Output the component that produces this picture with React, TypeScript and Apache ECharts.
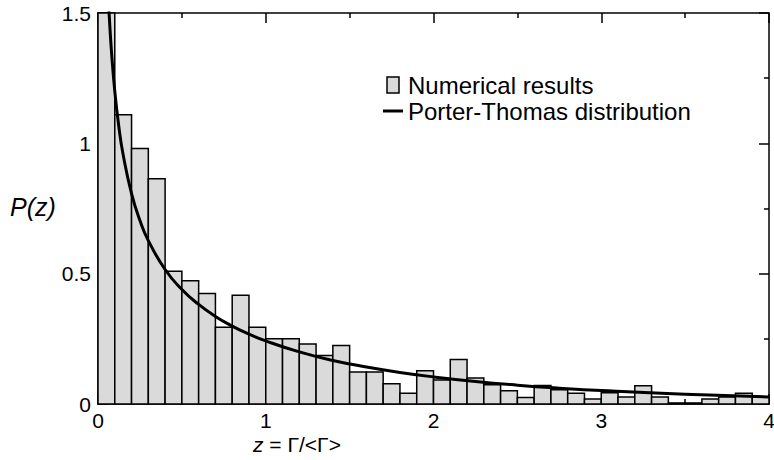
import React, { useEffect, useRef } from "react";
import * as echarts from "echarts";

// Histogram bins: width 0.1 from 0 to 4
const binStarts = [
  0.0, 0.1, 0.2, 0.3, 0.4, 0.5, 0.6, 0.7, 0.8, 0.9,
  1.0, 1.1, 1.2, 1.3, 1.4, 1.5, 1.6, 1.7, 1.8, 1.9,
  2.0, 2.1, 2.2, 2.3, 2.4, 2.5, 2.6, 2.7, 2.8, 2.9,
  3.0, 3.1, 3.2, 3.3, 3.4, 3.5, 3.6, 3.7, 3.8, 3.9,
];
const binWidth = 0.1;
const numericalResults = [
  1.5, 1.11, 0.98, 0.864, 0.509, 0.473, 0.424, 0.294, 0.417, 0.294,
  0.25, 0.25, 0.23, 0.186, 0.224, 0.123, 0.123, 0.078, 0.041, 0.128,
  0.092, 0.171, 0.1, 0.074, 0.051, 0.025, 0.071, 0.055, 0.041, 0.019,
  0.043, 0.027, 0.07, 0.027, 0.004, 0.004, 0.019, 0.027, 0.041, 0.027,
];

// Porter-Thomas curve points
const curveZ = [
  0.06, 0.067, 0.08, 0.1, 0.125, 0.15, 0.2, 0.25, 0.3, 0.4, 0.5, 0.6, 0.7,
  0.8, 0.9, 1.0, 1.2, 1.4, 1.6, 1.8, 2.0, 2.25, 2.5, 2.75, 3.0, 3.5, 4.0,
];
const curveP = [
  1.58, 1.49, 1.355, 1.2, 1.06, 0.956, 0.807, 0.704, 0.627, 0.516, 0.439,
  0.382, 0.336, 0.299, 0.268, 0.242, 0.2, 0.167, 0.142, 0.121, 0.104,
  0.0864, 0.0723, 0.0608, 0.0514, 0.0371, 0.027,
];

const xTicks = [0, 1, 2, 3, 4];
const yTicks = [0, 0.5, 1, 1.5];

const FONT = "'Liberation Sans', Arial, Helvetica, sans-serif";

export default function App() {
  const ref = useRef<HTMLDivElement>(null);

  useEffect(() => {
    document.body.style.margin = "0";
    if (!ref.current) return;
    const chart = echarts.init(ref.current, null, { renderer: "svg" });

    const histData = binStarts.map((s, i) => [s, s + binWidth, numericalResults[i]]);
    const curveData = curveZ.map((z, i) => [z, curveP[i]]);

    const yFmt = (v: number) => {
      const s = yTicks.find((t) => Math.abs(t - v) < 1e-9);
      return s === undefined ? "" : String(s);
    };

    const axisCommon = {
      axisLine: { show: true, onZero: false, lineStyle: { color: "#000", width: 1.5 } },
      axisTick: { show: true, inside: true, length: 10, lineStyle: { color: "#000", width: 1.5 } },
      minorTick: { show: true, splitNumber: 2, length: 5, lineStyle: { color: "#000", width: 1.5 } },
      splitLine: { show: false },
      minorSplitLine: { show: false },
    };

    const option: any = {
      animation: false,
      backgroundColor: "#fff",
      textStyle: { fontFamily: FONT },
      grid: {
        left: 98,
        right: 5,
        top: 13,
        bottom: 56,
        containLabel: false,
        outerBoundsMode: "none",
      },
      legend: {
        orient: "vertical",
        left: 378,
        top: 68,
        itemWidth: 20,
        itemHeight: 16,
        itemGap: 2,
        itemTextGap: 10,
        textStyle: { fontSize: 24, color: "#000", fontFamily: FONT, lineHeight: 23 },
        data: [
          {
            name: "Numerical results",
            icon: "path://M0,0H12V16H0Z",
            itemStyle: { color: "#dadada", borderColor: "#000", borderWidth: 1.5 },
          },
          {
            name: "Porter-Thomas distribution",
            icon: "path://M0,0H20V3H0Z",
            itemStyle: { color: "#000", borderWidth: 0 },
          },
        ],
      },
      xAxis: [
        {
          type: "value",
          min: 0,
          max: 4,
          interval: 1,
          position: "bottom",
          ...axisCommon,
          axisLabel: {
            show: true,
            margin: 6,
            fontSize: 21,
            color: "#000",
            fontFamily: FONT,
            formatter: (v: number) => (xTicks.includes(v) ? String(v) : ""),
          },
        },
        {
          type: "value",
          min: 0,
          max: 4,
          interval: 1,
          position: "top",
          ...axisCommon,
          axisLabel: { show: false },
        },
      ],
      yAxis: [
        {
          type: "value",
          min: 0,
          max: 1.5,
          interval: 0.5,
          position: "left",
          ...axisCommon,
          axisLabel: {
            show: true,
            margin: 7,
            fontSize: 21,
            color: "#000",
            fontFamily: FONT,
            formatter: yFmt,
          },
        },
        {
          type: "value",
          min: 0,
          max: 1.5,
          interval: 0.5,
          position: "right",
          ...axisCommon,
          axisLabel: { show: false },
        },
      ],
      graphic: [
        {
          type: "text",
          left: 10,
          top: 194,
          style: {
            text: "P(z)",
            fontSize: 25,
            fontStyle: "italic",
            fontFamily: FONT,
            fill: "#000",
          },
        },
        {
          type: "text",
          left: 253,
          top: 434,
          style: {
            text: "{i|z} = Γ/<Γ>",
            fontSize: 21,
            fontFamily: FONT,
            fill: "#000",
            rich: {
              i: { fontStyle: "italic", fontSize: 21, fontFamily: FONT, fill: "#000" },
            },
          },
        },
      ],
      series: [
        {
          name: "Numerical results",
          type: "custom",
          xAxisIndex: 0,
          yAxisIndex: 0,
          encode: { x: [0, 1], y: 2 },
          data: histData,
          itemStyle: { color: "#dadada", borderColor: "#000", borderWidth: 1.5 },
          renderItem: (params: any, api: any) => {
            const x0 = api.value(0);
            const x1 = api.value(1);
            const y = api.value(2);
            const pTop = api.coord([x0, y]);
            const pBot = api.coord([x1, 0]);
            return {
              type: "rect",
              shape: {
                x: pTop[0],
                y: pTop[1],
                width: pBot[0] - pTop[0],
                height: pBot[1] - pTop[1],
              },
              style: { fill: "#dadada", stroke: "#000", lineWidth: 1.5 },
            };
          },
        },
        {
          name: "Porter-Thomas distribution",
          type: "line",
          xAxisIndex: 0,
          yAxisIndex: 0,
          data: curveData,
          smooth: 0.5,
          symbol: "none",
          showSymbol: false,
          clip: true,
          lineStyle: { color: "#000", width: 3 },
          itemStyle: { color: "#000" },
          z: 3,
        },
      ],
    };

    chart.setOption(option);
    return () => chart.dispose();
  }, []);

  return <div ref={ref} style={{ width: 774, height: 460 }} />;
}
